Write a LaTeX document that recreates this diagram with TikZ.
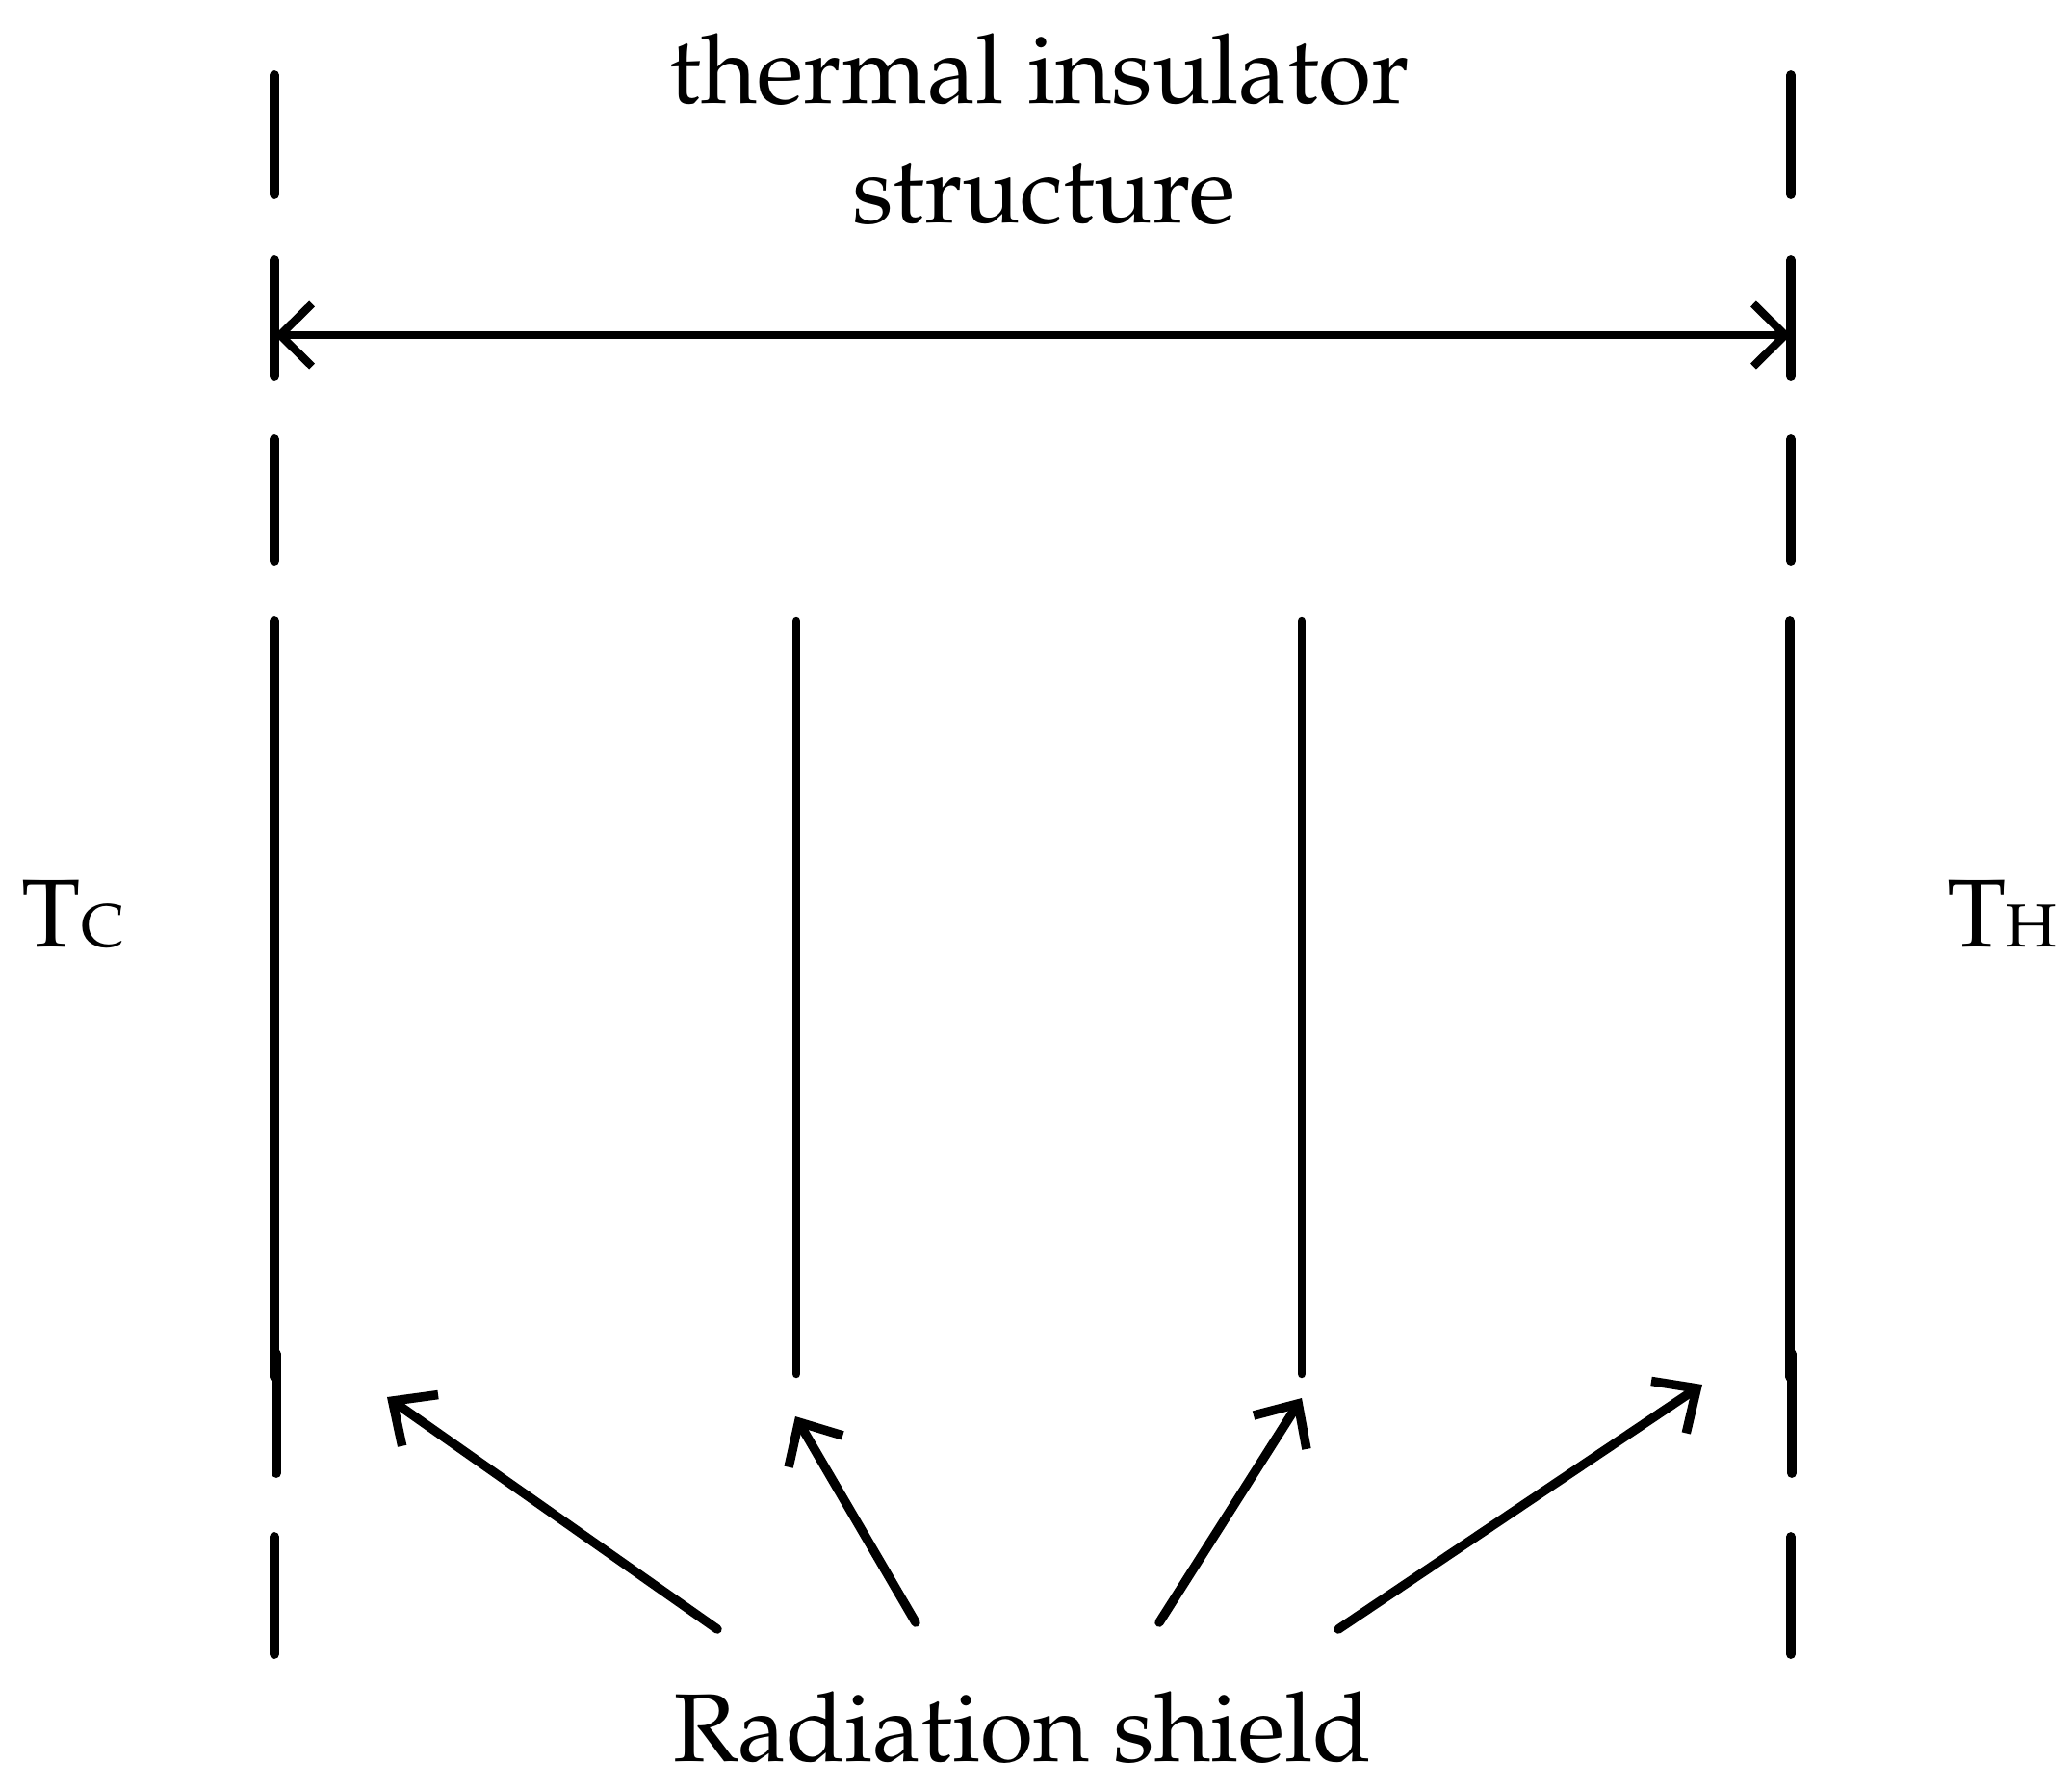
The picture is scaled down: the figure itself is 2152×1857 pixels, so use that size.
\documentclass[tikz,border=0pt]{standalone}
\usepackage[T1]{fontenc}
\usepackage{mathpazo}
\usetikzlibrary{arrows.meta}
\tikzset{
  wall/.style={line width=2.8pt,line cap=round},
  shield/.style={line width=2.4pt,line cap=round},
  ptr/.style={line width=2.7pt,line cap=round,-{Straight Barb[length=3.5mm,width=6.5mm]}},
  span/.style={line width=2.4pt,{Straight Barb[length=3.3mm,width=6.5mm]}-{Straight Barb[length=3.3mm,width=6.5mm]}},
  lab/.style={font=\fontsize{28.5}{35}\selectfont,inner sep=0pt}
}

\begin{document}
\begin{tikzpicture}[x=0.01cm,y=-0.01cm]
  \useasboundingbox (0,0) rectangle (2152,1857);

  % boundaries (dashed parts)
  \foreach \a/\b in {78/202,270/391,456/583,1596/1718} {
    \draw[wall] (285,\a) -- (285,\b);
    \draw[wall] (1860,\a) -- (1860,\b);
  }
  % walls and shields
  \draw[wall] (285,645) -- (285,1430);
  \draw[wall] (287,1406) -- (287,1530);
  \draw[wall] (1859,645) -- (1859,1430);
  \draw[wall] (1861,1406) -- (1861,1530);
  \draw[shield] (827,645) -- (827,1427);
  \draw[shield] (1352,645) -- (1352,1427);

  % width of the structure
  \coordinate (cold) at (285,348);
  \coordinate (hot) at (1860,348);
  \draw[span] (cold) -- (hot);

  \node[lab,anchor=base] (ins) at (1080,107) {thermal insulator};
  \node[lab,anchor=base] (struct) at (1084,231) {structure};
  \node[lab,anchor=base west] (tc) at (22,983) {T{\fontsize{18}{20}\selectfont C}};
  \node[lab,anchor=base east] (th) at (2137,983) {T{\fontsize{18}{20}\selectfont H}};
  \node[lab,anchor=base] (rad) at (1062,1829) {Radiation shield};

  % pointers to the shields
  \coordinate (p1) at (745,1692);
  \coordinate (p2) at (951,1685);
  \coordinate (p3) at (1204,1685);
  \coordinate (p4) at (1390,1692);
  \coordinate (s1) at (402,1451);
  \coordinate (s2) at (826,1471);
  \coordinate (s3) at (1352,1452);
  \coordinate (s4) at (1768,1438);
  \draw[ptr] (p1) -- (s1);
  \draw[ptr] (p2) -- (s2);
  \draw[ptr] (p3) -- (s3);
  \draw[ptr] (p4) -- (s4);
\end{tikzpicture}
\end{document}
